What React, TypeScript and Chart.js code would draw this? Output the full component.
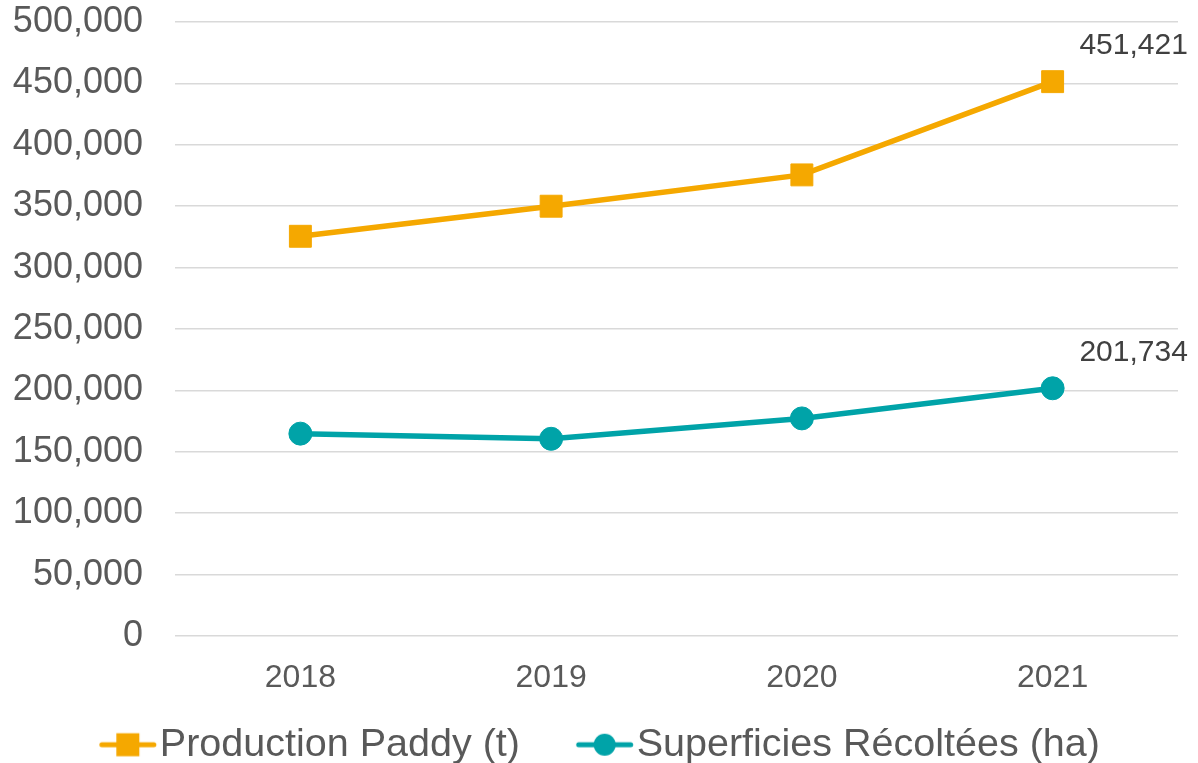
import React, { useEffect, useRef } from "react";
import { Chart, registerables } from "chart.js";

Chart.register(...registerables);

const years = ["2018", "2019", "2020", "2021"];
const production = [325500, 350000, 375500, 451421];
const superficies = [164800, 160600, 177200, 201734];
const yTicks = [0, 50000, 100000, 150000, 200000, 250000, 300000, 350000, 400000, 450000, 500000];

const ORANGE = "#F5A800";
const TEAL = "#00A3A8";
const FONT = "'Liberation Sans', Arial, Helvetica, sans-serif";

const LEG_FONT = 39.5;
const LEG_PAD = 35;
const LEG_BOX = 62;

function makeMarker(color: string, shape: "rect" | "circle"): HTMLCanvasElement {
  // visible marker is 58px wide, ending 3px before the legend text
  const offset = LEG_BOX / 2 + LEG_FONT / 2 - 32;
  const W = Math.ceil(2 * (offset + 29) + 2);
  const H = 26;
  const cx = W / 2 + offset;
  const c = document.createElement("canvas");
  c.width = W;
  c.height = H;
  const ctx = c.getContext("2d")!;
  ctx.strokeStyle = color;
  ctx.lineWidth = 5;
  ctx.lineCap = "round";
  ctx.beginPath();
  ctx.moveTo(cx - 26, 13);
  ctx.lineTo(cx + 26, 13);
  ctx.stroke();
  ctx.fillStyle = color;
  if (shape === "rect") {
    ctx.fillRect(cx - 11.5, 13 - 11.5, 23, 23);
  } else {
    ctx.beginPath();
    ctx.arc(cx, 13, 11, 0, Math.PI * 2);
    ctx.fill();
  }
  return c;
}

const lastLabelPlugin = {
  id: "lastLabel",
  afterDatasetsDraw(chart: any) {
    const ctx = chart.ctx;
    ctx.save();
    ctx.font = `30px ${FONT}`;
    ctx.fillStyle = "#404040";
    ctx.textAlign = "center";
    ctx.textBaseline = "middle";
    chart.data.datasets.forEach((ds: any, i: number) => {
      const meta = chart.getDatasetMeta(i);
      const n = ds.data.length - 1;
      const el = meta.data[n];
      if (!el) return;
      const v = ds.data[n] as number;
      ctx.fillText(v.toLocaleString("en-US"), el.x + 81, el.y - 36);
    });
    ctx.restore();
  },
};

export default function App() {
  const ref = useRef<HTMLCanvasElement | null>(null);

  useEffect(() => {
    document.body.style.margin = "0";
    if (!ref.current) return;
    const markers = [makeMarker(ORANGE, "rect"), makeMarker(TEAL, "circle")];
    const chart = new Chart(ref.current, {
      type: "line",
      data: {
        labels: years,
        datasets: [
          {
            label: "Production Paddy (t)",
            data: production,
            borderColor: ORANGE,
            backgroundColor: ORANGE,
            borderWidth: 5.5,
            pointStyle: "rect",
            pointRadius: 15.5,
            pointBorderWidth: 1,
            pointBackgroundColor: ORANGE,
            pointBorderColor: ORANGE,
            tension: 0,
          },
          {
            label: "Superficies Récoltées (ha)",
            data: superficies,
            borderColor: TEAL,
            backgroundColor: TEAL,
            borderWidth: 5.5,
            pointStyle: "circle",
            pointRadius: 11.5,
            pointBorderWidth: 1,
            pointBackgroundColor: TEAL,
            pointBorderColor: TEAL,
            tension: 0,
          },
        ],
      },
      options: {
        animation: false,
        responsive: false,
        maintainAspectRatio: false,
        layout: { padding: { top: 22, right: 20, left: 0, bottom: -11.5 } },
        plugins: {
          tooltip: { enabled: false },
          legend: {
            position: "bottom",
            labels: {
              usePointStyle: true,
              pointStyleWidth: LEG_BOX,
              padding: LEG_PAD,
              color: "#595959",
              font: { family: FONT, size: LEG_FONT },
              generateLabels: (chart: any) =>
                chart.data.datasets.map((ds: any, i: number) => ({
                  text: ds.label,
                  pointStyle: markers[i],
                  fillStyle: ds.borderColor,
                  strokeStyle: ds.borderColor,
                  lineWidth: 0,
                  hidden: false,
                  datasetIndex: i,
                  fontColor: "#595959",
                })),
            },
          },
        },
        scales: {
          x: {
            offset: true,
            grid: { display: false },
            border: { display: false },
            ticks: { color: "#595959", font: { family: FONT, size: 32 }, padding: 15 },
            afterFit: (s: any) => {
              s.height = 54;
            },
          },
          y: {
            min: 0,
            max: 500000,
            afterBuildTicks: (s: any) => {
              s.ticks = yTicks.map((v) => ({ value: v }));
            },
            grid: {
              color: "#D9D9D9",
              lineWidth: 1.5,
              drawTicks: true,
              tickLength: 32,
              tickColor: "rgba(0,0,0,0)",
            },
            border: { display: false },
            ticks: {
              color: "#595959",
              font: { family: FONT, size: 36 },
              padding: 0,
              callback: (v: any) => Number(v).toLocaleString("en-US"),
            },
            afterFit: (s: any) => {
              s.width = 175;
            },
          },
        },
      },
      plugins: [lastLabelPlugin],
    });
    return () => chart.destroy();
  }, []);

  return (
    <div style={{ position: "absolute", left: 0, top: 0, width: 1198, height: 763 }}>
      <canvas ref={ref} width={1198} height={763} style={{ width: 1198, height: 763 }} />
    </div>
  );
}
